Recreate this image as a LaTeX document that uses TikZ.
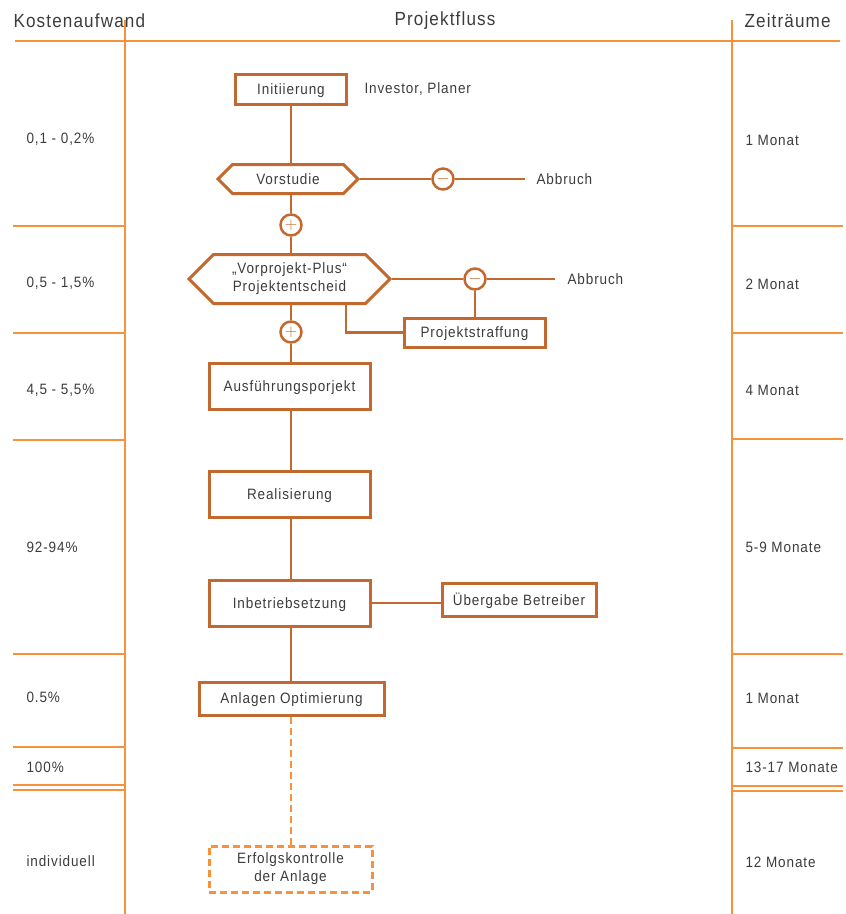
\documentclass[tikz,border=0pt]{standalone}
\usepackage{fontspec}
\setmainfont{Liberation Sans}[FakeStretch=0.9,LetterSpace=6]
\usetikzlibrary{shapes.symbols,calc}
\definecolor{boxline}{HTML}{C3692F}
\definecolor{gridline}{HTML}{F7923A}
\definecolor{txt}{HTML}{3C3C3C}
\tikzset{
  grid/.style={draw=gridline,line width=1.5pt},
  flow/.style={draw=boxline,line width=2.5pt},
  stepbox/.style={draw=boxline,line width=3pt,fill=white,text=txt,font=\fontsize{15}{18}\selectfont,inner sep=0pt},
  onerow/.style={stepbox,text depth=0pt},
  hexbox/.style={stepbox,signal,signal to=west and east,signal pointer angle=90,align=center},
  knot/.style={circle,draw=boxline,line width=2.5pt,fill=white,minimum size=21pt,inner sep=0pt,text=boxline,font=\fontsize{17}{17}\selectfont},
  collabel/.style={text=txt,font=\fontsize{15}{18}\selectfont,anchor=west},
  head/.style={text=txt,font=\fontsize{19}{23}\selectfont},
  plain/.style={text=txt,font=\fontsize{15}{18}\selectfont,anchor=west},
}
\begin{document}
\begin{tikzpicture}[x=1pt,y=-1pt]
\useasboundingbox (0,0) rectangle (846,914);

% column frame
\draw[grid] (15,41) -- (840,41);
\draw[grid] (125,20) -- (125,914);
\draw[grid] (732,20) -- (732,914);
\foreach \yy in {226,333,440,654,747,785,790}
  \draw[grid] (13,\yy) -- (125,\yy);
\foreach \yy in {226,333,439,654,748,786,791}
  \draw[grid] (732,\yy) -- (843,\yy);

% headings
\node[head,anchor=west] (hk) at (10,21) {Kostenaufwand};
\node[head] (hp) at (445,21) {Projektfluss};
\node[head,anchor=west] (hz) at (741,21) {Zeiträume};

% cost shares
\node[collabel] (k1) at (23,139) {0,1 - 0,2\%};
\node[collabel] (k2) at (23,283) {0,5 - 1,5\%};
\node[collabel] (k3) at (23,390) {4,5 - 5,5\%};
\node[collabel] (k4) at (23,547) {92-94\%};
\node[collabel] (k5) at (23,697) {0.5\%};
\node[collabel] (k6) at (23,767) {100\%};
\node[collabel] (k7) at (23,861) {individuell};

% durations
\node[collabel] (z1) at (742,140) {1 Monat};
\node[collabel] (z2) at (742,284) {2 Monat};
\node[collabel] (z3) at (742,390) {4 Monat};
\node[collabel] (z4) at (742,547) {5-9 Monate};
\node[collabel] (z5) at (742,698) {1 Monat};
\node[collabel] (z6) at (742,767) {13-17 Monate};
\node[collabel] (z7) at (742,862) {12 Monate};

% process steps
\node[onerow,minimum width=111pt,minimum height=30pt] (init) at (291,89) {Initiierung};
\node[plain] (inv) at (361,89) {Investor, Planer};
\node[hexbox,text depth=0pt,minimum width=140pt,minimum height=29pt] (vs) at (288,179) {Vorstudie};
\node[knot] (m1) at (443,179) {$-$};
\coordinate (e1) at (525,179);
\node[plain] (ab1) at (533,179) {Abbruch};
\node[knot] (p1) at (291,225) {$+$};
\node[hexbox,minimum width=201pt,minimum height=49pt] (vp) at (289.5,279) {„Vorprojekt-Plus“\\Projektentscheid};
\node[knot] (m2) at (475,279) {$-$};
\coordinate (e2) at (555,279);
\node[plain] (ab2) at (564,279) {Abbruch};
\node[onerow,minimum width=141pt,minimum height=29pt] (ps) at (474.5,332.5) {Projektstraffung};
\node[knot] (p2) at (291,332) {$+$};
\node[onerow,minimum width=161pt,minimum height=46pt] (aus) at (289.5,386) {Ausführungsporjekt};
\node[onerow,minimum width=161pt,minimum height=46pt] (real) at (289.5,494) {Realisierung};
\node[onerow,minimum width=161pt,minimum height=46pt] (inb) at (289.5,603) {Inbetriebsetzung};
\node[onerow,minimum width=154pt,minimum height=33pt] (ueb) at (519,599.5) {Übergabe Betreiber};
\node[onerow,minimum width=185pt,minimum height=33pt] (anl) at (291.5,698.5) {Anlagen Optimierung};
\node[stepbox,draw=gridline,dash pattern=on 7pt off 4pt,align=center,minimum width=163pt,minimum height=46pt] (erf) at (290.5,869) {Erfolgskontrolle\\der Anlage};

% connectors
\draw[flow] (init.south -| 291,0) -- (291,164);
\draw[flow] (vs.east) -- (m1.west);
\draw[flow] (m1.east) -- (e1);
\draw[flow] (291,193) -- (p1.north);
\draw[flow] (p1.south) -- (291,255);
\draw[flow] (vp.east) -- (m2.west);
\draw[flow] (m2.east) -- (e2);
\draw[flow] (m2.south) -- (ps.north -| m2.south);
\draw[flow] ($(vp.south)+(56.5,0)$) |- (ps.west);
\draw[flow] (291,304) -- (p2.north);
\draw[flow] (p2.south) -- (aus.north -| 291,0);
\draw[flow] (aus.south -| 291,0) -- (real.north -| 291,0);
\draw[flow] (real.south -| 291,0) -- (inb.north -| 291,0);
\draw[flow] (inb.south -| 291,0) -- (anl.north -| 291,0);
\draw[flow] (inb.east) -- (inb.east -| ueb.west);
\draw[draw=gridline,line width=2.5pt,dash pattern=on 7pt off 4pt] (anl.south -| 291,0) -- (erf.north -| 291,0);
\end{tikzpicture}
\end{document}
